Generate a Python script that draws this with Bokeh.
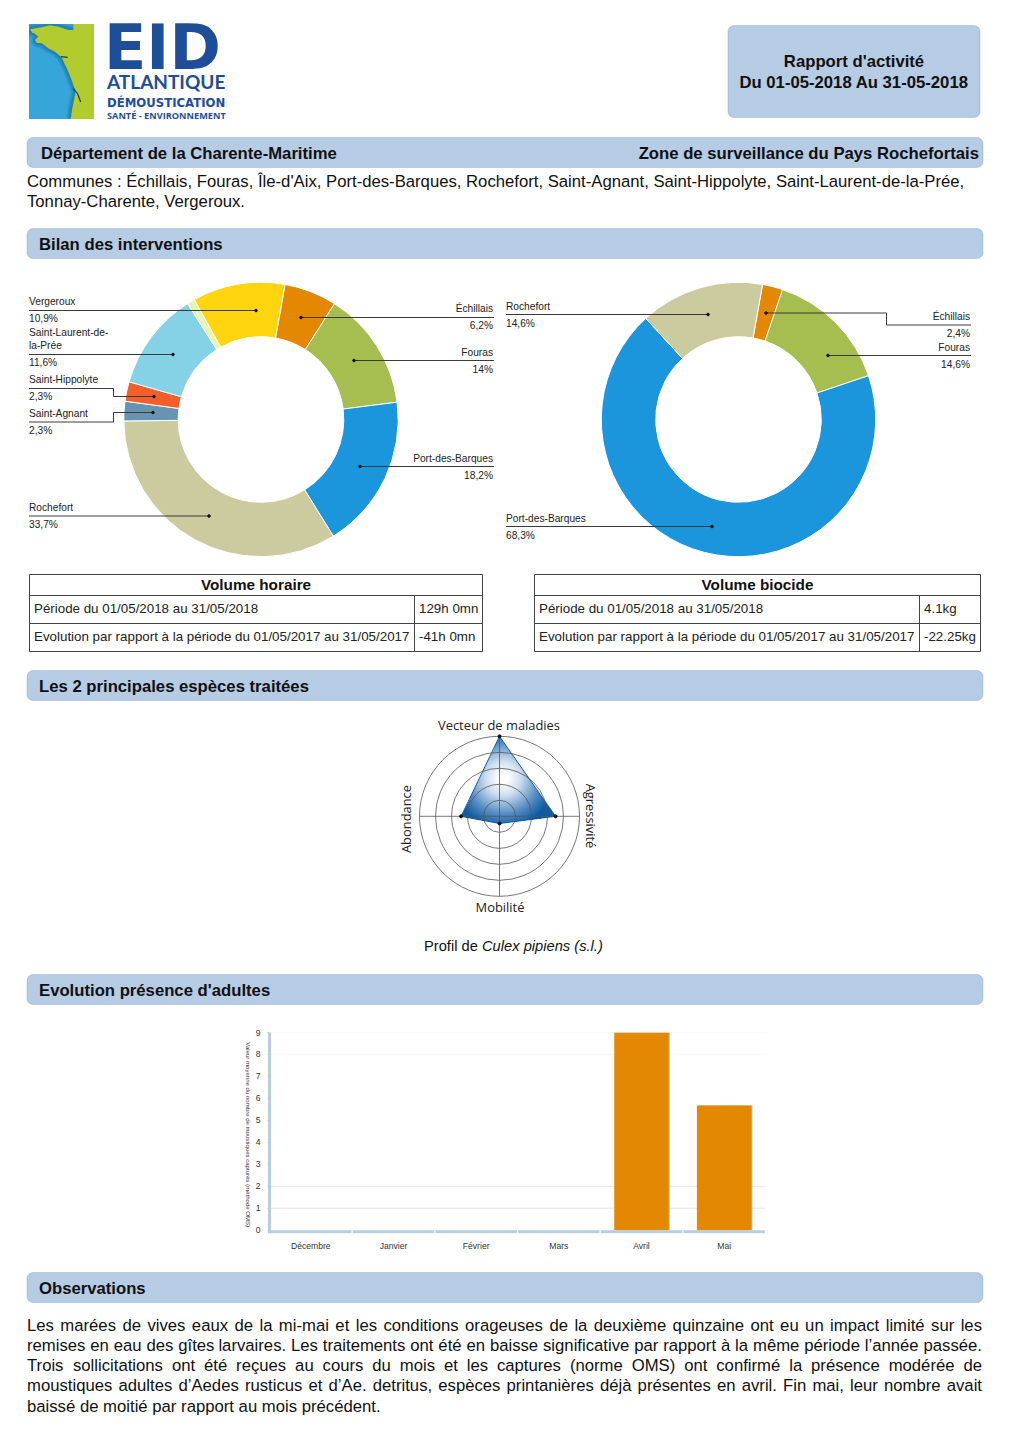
import math
import unicodedata
import numpy as np
from bokeh.plotting import figure
from bokeh.layouts import column, row
from bokeh.models import BoxAnnotation, Range1d, FactorRange, FixedTicker, Spacer, Span, ColumnDataSource
from bokeh.core.properties import value
from bokeh.transform import dodge
from bokeh.embed import file_html
from bokeh.resources import INLINE

# ------- data -------
left_names = ["Échillais", "Fouras", "Port-des-Barques", "Rochefort", "Saint-Agnant",
              "Saint-Hippolyte", "Saint-Laurent-de-la-Prée", "Île-d'Aix", "Vergeroux"]
left_values = [6.2, 14.0, 18.2, 33.7, 2.3, 2.3, 11.6, 0.9, 10.9]
left_colors = ["#E38800", "#A6BD4F", "#1B95DC", "#CCCB9F", "#6694B3", "#F25F2B", "#85D1E6", "#E5F5B3", "#FFD510"]

right_names = ["Échillais", "Fouras", "Port-des-Barques", "Rochefort"]
right_values = [2.4, 14.6, 68.3, 14.6]
right_colors = ["#E38800", "#A6BD4F", "#1B95DC", "#CCCB9F"]

months = ["Décembre", "Janvier", "Février", "Mars", "Avril", "Mai"]
adults = [0, 0, 0, 0, 9, 5.68]
y_ticks = [0, 1, 2, 3, 4, 5, 6, 7, 8, 9]
y_title = "Valeur moyenne du nombre de moustiques capturés (méthode OMS)"

radar_axes = ["Vecteur de maladies", "Agressivité", "Mobilité", "Abondance"]
radar_values = [5, 3.5, 0.45, 2.4]
radar_rings = [1, 2, 3, 4, 5]

obs_lines = [
    "Les marées de vives eaux de la mi-mai et les conditions orageuses de la deuxième quinzaine ont eu un impact limité sur les",
    "remises en eau des gîtes larvaires. Les traitements ont été en baisse significative par rapport à la même période l’année passée.",
    "Trois sollicitations ont été reçues au cours du mois et les captures (norme OMS) ont confirmé la présence modérée de",
    "moustiques adultes d’Aedes rusticus et d’Ae. detritus, espèces printanières déjà présentes en avril. Fin mai, leur nombre avait",
    "baissé de moitié par rapport au mois précédent.",
]

# ------- helpers -------
SANS = "Liberation Sans"
BOX_FILL, BOX_LINE = "#B6CBE4", "#6A8DB5"
H = 16.7


def page_fig(y0, y1, x0=0, x1=1012):
    f = figure(width=x1 - x0, height=y1 - y0, x_range=Range1d(x0 + 0.5, x1 + 0.5), y_range=Range1d(y1 + 0.5, y0 + 0.5),
               x_axis_location=None, y_axis_location=None, toolbar_location=None,
               output_backend="svg", min_border=0, outline_line_color=None)
    f.xgrid.visible = False
    f.ygrid.visible = False
    return f


def T(f, x, y, s, size=16, bold=False, italic=False, align="left", color="#111111", font=SANS, angle=0):
    style = "bold italic" if bold and italic else "bold" if bold else "italic" if italic else "normal"
    f.text(x=[x], y=[y], text=[s], text_font=value(font), text_font_size=value(f"{size}px"),
           text_font_style=value(style), text_align=align, text_baseline="middle",
           text_color=color, angle=angle)


def box(f, l, r, t, b, radius=6):
    f.add_layout(BoxAnnotation(left=l, right=r, top=t, bottom=b, fill_color=BOX_FILL, fill_alpha=1,
                               line_color=BOX_LINE, line_width=1, border_radius=radius, level="underlay"))


def donut(f, cx, cy, vals, cols, start_deg=10.1, ro=137.2, ri=82.8):
    a0 = []
    a1 = []
    cur = start_deg
    tot = sum(vals)
    for v in vals:
        nxt = cur + v / tot * 360
        a0.append(math.radians(90 - nxt))
        a1.append(math.radians(90 - cur))
        cur = nxt
    f.annular_wedge(x=[cx] * len(vals), y=[cy] * len(vals), inner_radius=ri, outer_radius=ro,
                    start_angle=a0, end_angle=a1, fill_color=cols, line_color="white", line_width=1)


def leader(f, xs, ys):
    f.line(xs, ys, line_color="#3a3a3a", line_width=1)
    f.scatter([xs[-1]], [ys[-1]], size=2.6, color="#111111", marker="circle")


def lab(f, x, lines, val, y_line, align="left"):
    n = len(lines)
    for i, s in enumerate(lines):
        T(f, x, y_line - 8.5 - (n - 1 - i) * 13.5, s, size=10.2, align=align, color="#222222")
    T(f, x, y_line + 8.5, val, size=10.2, align=align, color="#222222")


HW = {'a': 556, 'b': 556, 'c': 500, 'd': 556, 'e': 556, 'f': 278, 'g': 556, 'h': 556, 'i': 222, 'j': 222,
      'k': 500, 'l': 222, 'm': 833, 'n': 556, 'o': 556, 'p': 556, 'q': 556, 'r': 333, 's': 500, 't': 278,
      'u': 556, 'v': 500, 'w': 722, 'x': 500, 'y': 500, 'z': 500, 'L': 556, 'T': 611, 'O': 778, 'M': 833,
      'S': 667, 'A': 667, 'F': 611, '.': 278, ',': 278, '-': 333, '’': 222, '(': 333, ')': 333, 'ç': 500}


def word_w(w, size):
    tot = 0
    for ch in w:
        base = ch if ch in HW else unicodedata.normalize("NFD", ch)[0]
        tot += HW.get(base, 556)
    return tot * size / 1000


def justified(f, s, y, x0, x1, size, stretch=True):
    words = s.split(" ")
    ww = [word_w(w, size) for w in words]
    gap = (x1 - x0 - sum(ww)) / (len(words) - 1) if stretch else 0.278 * size
    x = x0
    for w, wd in zip(words, ww):
        T(f, x, y, w, size=size)
        x += wd + gap


# ------- top of page -------
p = page_fig(0, 1020)

# logo
p.quad(left=[29], right=[94], top=[24], bottom=[119], fill_color="#35A5DA", line_color=None)
coast = [(15, 28), (50, 22), (75, 16), (100, 20), (130, 30), (145, 30), (145, 12), (207, 12), (207, 297), (137, 297),
         (142, 265), (148, 235), (152, 215), (145, 195), (138, 175), (128, 150), (118, 130), (110, 112), (90, 95),
         (70, 85), (50, 70), (35, 68), (30, 60), (40, 50), (28, 40), (22, 38)]
cx = [25 + a / 3 for a, b in coast]
cy = [20 + b / 3 for a, b in coast]
shore_x = cx[9:] + cx[:6]
shore_y = cy[9:] + cy[:6]
p.line(shore_x, shore_y, line_color="#15628F", line_width=9, line_alpha=0.25)
p.line(shore_x, shore_y, line_color="#15628F", line_width=5, line_alpha=0.35)
p.patch(cx, cy, fill_color="#B2CB2E", line_color=None)
p.quad(left=[20, 20], right=[100, 29], top=[16, 16], bottom=[24, 125], fill_color="white", line_color=None)
p.quad(left=[20], right=[100], top=[119], bottom=[125], fill_color="white", line_color=None)
p.line([25 + 145 / 3, 25 + 158 / 3, 25 + 167 / 3], [20 + 205 / 3, 20 + 222 / 3, 20 + 246 / 3], line_color="#123E63", line_width=1.2)
p.line([25 + 108 / 3, 25 + 128 / 3], [20 + 110 / 3, 20 + 112 / 3], line_color="#123E63", line_width=1.2)

T(p, 104, 47, "EID", size=62, bold=True, color="#1F4E99", font="DejaVu Sans")
T(p, 107, 81.5, "ATLANTIQUE", size=19, bold=True, color="#1F4E99", font="Lato")
T(p, 107, 103, "DÉMOUSTICATION", size=11.7, bold=True, color="#1F4E99", font="DejaVu Sans")
T(p, 107, 115, "SANTÉ - ENVIRONNEMENT", size=9.2, bold=True, color="#1F4E99", font="Open Sans")

box(p, 728, 980, 25.5, 117.5)
T(p, 854, 61.5, "Rapport d'activité", size=H, bold=True, align="center")
T(p, 854, 82, "Du 01-05-2018 Au 31-05-2018", size=H, bold=True, align="center")

box(p, 27, 983, 137.5, 167.5)
T(p, 41, 153, "Département de la Charente-Maritime", size=H, bold=True)
T(p, 979, 153, "Zone de surveillance du Pays Rochefortais", size=H, bold=True, align="right")
T(p, 27, 181, "Communes : Échillais, Fouras, Île-d'Aix, Port-des-Barques, Rochefort, Saint-Agnant, Saint-Hippolyte, Saint-Laurent-de-la-Prée,", size=H)
T(p, 27, 201, "Tonnay-Charente, Vergeroux.", size=H)

box(p, 27, 983, 228.5, 258.5)
T(p, 39, 244, "Bilan des interventions", size=H, bold=True)

# donuts
donut(p, 261, 419.5, left_values, left_colors)
donut(p, 738.5, 419.5, right_values, right_colors)

lab(p, 29, ["Vergeroux"], "10,9%", 310)
leader(p, [29, 256], [310.5, 310.5])
lab(p, 29, ["Saint-Laurent-de-", "la-Prée"], "11,6%", 354)
leader(p, [29, 173], [354.5, 354.5])
lab(p, 29, ["Saint-Hippolyte"], "2,3%", 388)
leader(p, [29, 113.5, 113.5, 154], [388.5, 388.5, 396.5, 396.5])
lab(p, 29, ["Saint-Agnant"], "2,3%", 421.7)
leader(p, [29, 113.5, 113.5, 153], [422, 422, 412.5, 412.5])
lab(p, 29, ["Rochefort"], "33,7%", 516)
leader(p, [29, 209], [516, 516])
lab(p, 493, ["Échillais"], "6,2%", 317, align="right")
leader(p, [494, 301], [317.5, 317.5])
lab(p, 493, ["Fouras"], "14%", 360.5, align="right")
leader(p, [494, 354], [360.5, 360.5])
lab(p, 493, ["Port-des-Barques"], "18,2%", 466.5, align="right")
leader(p, [494, 360], [466.5, 466.5])
lab(p, 506, ["Rochefort"], "14,6%", 314.5)
leader(p, [506, 708], [314.5, 314.5])
lab(p, 506, ["Port-des-Barques"], "68,3%", 526.5)
leader(p, [506, 712], [526.5, 526.5])
lab(p, 970, ["Échillais"], "2,4%", 325, align="right")
leader(p, [971, 886.5, 886.5, 766], [325, 325, 313, 313])
lab(p, 970, ["Fouras"], "14,6%", 355.5, align="right")
leader(p, [971, 828], [355.5, 355.5])


# tables
def table(f, l, r, v, title, rows_):
    top, h1, h2, bot = 574.5, 595.5, 623.5, 651.5
    f.multi_line(xs=[[l, r, r, l, l], [l, r], [l, r], [v, v]],
                 ys=[[top, top, bot, bot, top], [h1, h1], [h2, h2], [h1, bot]],
                 line_color="#444444", line_width=1)
    T(f, (l + r) / 2, 584.5, title, size=15.3, bold=True, align="center")
    for y, (a, b) in zip((608.5, 636.5), rows_):
        T(f, l + 4.5, y, a, size=13.35, color="#222222")
        T(f, v + 4.5, y, b, size=13.35, color="#222222")


table(p, 29.5, 482.5, 414.5, "Volume horaire",
      [("Période du 01/05/2018 au 31/05/2018", "129h 0mn"),
       ("Evolution par rapport à la période du 01/05/2017 au 31/05/2017", "-41h 0mn")])
table(p, 534.5, 980.5, 919.5, "Volume biocide",
      [("Période du 01/05/2018 au 31/05/2018", "4.1kg"),
       ("Evolution par rapport à la période du 01/05/2017 au 31/05/2017", "-22.25kg")])

box(p, 27, 983, 670.5, 700.5)
T(p, 39, 686, "Les 2 principales espèces traitées", size=H, bold=True)

# radar
RX, RY, RU = 499.5, 816.3, 16.0
vx = [RX + radar_values[i] * RU * math.sin(i * math.pi / 2) for i in range(4)]
vy = [RY - radar_values[i] * RU * math.cos(i * math.pi / 2) for i in range(4)]
# radial-shaded fill of the profile polygon
gx0, gx1, gy0, gy1 = 440, 570, 725, 835
S = 2
X, Y = np.meshgrid(np.arange(gx0, gx1, 1 / S) + 0.25, np.arange(gy0, gy1, 1 / S) + 0.25)
inside = np.ones_like(X, dtype=bool)
for i in range(4):
    j = (i + 1) % 4
    inside &= ((vx[j] - vx[i]) * (Y - vy[i]) - (vy[j] - vy[i]) * (X - vx[i])) >= 0
d = np.clip(np.hypot(X - 503, Y - 778) / 50, 0, 1)
stops = np.array([[255, 255, 255], [205, 222, 238], [85, 140, 195], [12, 93, 163]], dtype=float)
ts = [0.1, 0.35, 0.72, 1]
rgb = [np.interp(d, ts, stops[:, k]) for k in range(3)]
img = np.zeros(X.shape, dtype=np.uint32)
img[inside] = (255 << 24) | (rgb[2][inside].astype(np.uint32) << 16) | (rgb[1][inside].astype(np.uint32) << 8) | rgb[0][inside].astype(np.uint32)
p.image_rgba(image=[img], x=[gx0], y=[gy0], dw=[gx1 - gx0], dh=[gy1 - gy0])
p.patch(vx, vy, fill_color=None, line_color="#0C5DA3", line_width=1)
p.circle(x=[RX] * 5, y=[RY] * 5, radius=[r * RU for r in radar_rings], fill_color=None,
         line_color="#555555", line_width=0.8)
p.multi_line(xs=[[RX - 80, RX + 80], [RX, RX]], ys=[[RY, RY], [RY - 80, RY + 80]], line_color="#555555", line_width=0.8)
p.scatter(vx, vy, size=3, color="#111111", marker="circle")
T(p, 499, 725, radar_axes[0], size=12.9, font="Open Sans", align="center", color="#222222")
T(p, 591, 816, radar_axes[1], size=12.9, font="Open Sans", align="center", color="#222222", angle=-math.pi / 2)
T(p, 500, 907, radar_axes[2], size=12.9, font="Open Sans", align="center", color="#222222")
T(p, 406, 819, radar_axes[3], size=12.9, font="Open Sans", align="center", color="#222222", angle=math.pi / 2)
T(p, 424, 945.5, "Profil de", size=14.7)
T(p, 482, 945.5, "Culex pipiens (s.l.)", size=14.7, italic=True)

box(p, 27, 983, 974.5, 1004.5)
T(p, 39, 990, "Evolution présence d'adultes", size=H, bold=True)

# ------- bar chart -------
AXC = "#B8CDE0"
b = figure(width=529, height=235, x_range=FactorRange(factors=months, factor_padding=0, range_padding=0),
           y_range=Range1d(-0.15, 9), toolbar_location=None, output_backend="svg",
           min_border_left=18, min_border_right=15, min_border_top=12, min_border_bottom=22,
           outline_line_color=None)
b.xgrid.visible = False
b.ygrid.visible = False
for lev, col in ((1, "#E6E6E6"), (2, "#E6E6E6"), (8, "#F8F8F8"), (9, "#F8F8F8")):
    b.add_layout(Span(location=lev, dimension="width", line_color=col, line_width=1, level="underlay"))
src = ColumnDataSource(dict(m=months, v=adults))
b.vbar(x=dodge("m", 0.012, range=b.x_range), top="v", width=0.66, bottom=0, source=src,
       fill_color="#BDBDBD", line_color=None)
b.vbar(x="m", top="v", width=0.66, bottom=0, source=src, fill_color="#E38800", line_color=None)
b.rect(x=months, y=[-1.5 / 22] * 6, width=0.985, height=3, height_units="screen", fill_color=AXC, line_color=None)
ax = b.yaxis[0]
ax.ticker = FixedTicker(ticks=y_ticks)
ax.axis_line_color = AXC
ax.axis_line_width = 3
ax.major_tick_line_color = AXC
ax.major_tick_in = 0
ax.major_tick_out = 2
ax.minor_tick_line_color = None
ax.major_label_text_font = SANS
ax.major_label_text_font_size = "8.6px"
ax.major_label_text_color = "#333333"
ax.major_label_standoff = 7
xa = b.xaxis[0]
xa.axis_line_color = None
xa.major_tick_line_color = None
xa.minor_tick_line_color = None
xa.major_label_text_font = SANS
xa.major_label_text_font_size = "8.6px"
xa.major_label_text_color = "#333333"
xa.major_label_standoff = 1

# y-axis title, reading downwards, in a narrow strip left of the chart
tt = page_fig(1020, 1255, 240, 251)
T(tt, 248, 1032, y_title, size=6.05, color="#333333", angle=-math.pi / 2)

mid = row(Spacer(width=240, height=235), tt, b, spacing=0)

# ------- bottom -------
q = page_fig(1255, 1436)
box(q, 27, 983, 1272.5, 1302.5)
T(q, 39, 1288, "Observations", size=H, bold=True)
for i, s in enumerate(obs_lines):
    justified(q, s, 1325 + i * 20.3, 27, 982, H, stretch=i < 4)

page = column(p, mid, q, spacing=0)
open("out.html", "w").write(file_html(page, INLINE))
